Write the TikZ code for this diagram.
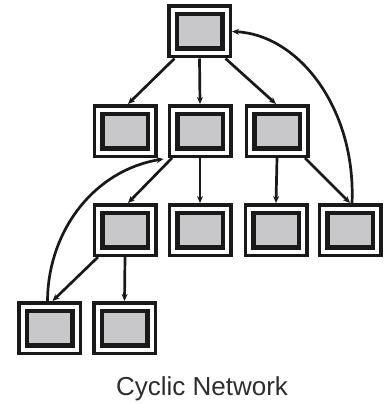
\documentclass[tikz,border=0pt]{standalone}
\usepackage{fontspec}
\setmainfont{Liberation Sans}
\usetikzlibrary{arrows.meta}
\definecolor{boxgray}{RGB}{200,200,202}
\definecolor{inkc}{RGB}{25,25,25}
\definecolor{captc}{RGB}{45,45,45}
\begin{document}
\begin{tikzpicture}[x=1pt,y=-1pt,
  netbox/.style={draw=inkc, line width=3.5pt, fill=white,
    minimum width=61.5pt, minimum height=50.5pt, inner sep=0pt,
    path picture={\draw[draw=inkc, line width=4.5pt, fill=boxgray]
      ([shift={(8pt,8pt)}]path picture bounding box.south west) rectangle
      ([shift={(-8pt,-8pt)}]path picture bounding box.north east);}},
  link/.style={draw=inkc, line width=2.7pt, -{Stealth[length=7pt,width=6pt]}},
  capt/.style={text=captc, inner sep=0pt, anchor=base}]
\useasboundingbox (0,0) rectangle (388,404);
% nodes
\node[netbox] (t)  at (199.5,31.5) {};
\node[netbox] (a1) at (125,131) {};
\node[netbox] (a2) at (200,131) {};
\node[netbox] (a3) at (277,131) {};
\node[netbox] (b1) at (125,230) {};
\node[netbox] (b2) at (200,230) {};
\node[netbox] (b3) at (276,230) {};
\node[netbox] (b4) at (350,230) {};
\node[netbox] (c1) at (49.5,328) {};
\node[netbox] (c2) at (124.5,328) {};
\node[capt] (cap) at (202,395) {\fontsize{26}{26}\selectfont Cyclic Network};
% connectors
\draw[link] ([xshift=-25pt]t.south) -- ([xshift=3pt]a1.north);
\draw[link] (t.south) -- (a2.north);
\draw[link] ([xshift=26pt]t.south) -- ([xshift=-1pt]a3.north);
\draw[link] ([xshift=-28pt]a2.south) -- ([xshift=3pt]b1.north);
\draw[link] (a2.south) -- (b2.north);
\draw[link] (a3.south) -- (b3.north);
\draw[link] ([xshift=28pt]a3.south) -- (b4.north);
\draw[link] ([xshift=2pt]b4.north) .. controls (356,110) and (300,35) .. (t.east);
\draw[link] ([xshift=-27pt]b1.south) -- ([xshift=3pt]c1.north);
\draw[link] (b1.south) -- (c2.north);
\draw[link] ([xshift=-2pt]c1.north) .. controls (48,230) and (95,170) .. ([xshift=-4pt,yshift=-1pt]a2.south west);
\end{tikzpicture}
\end{document}
